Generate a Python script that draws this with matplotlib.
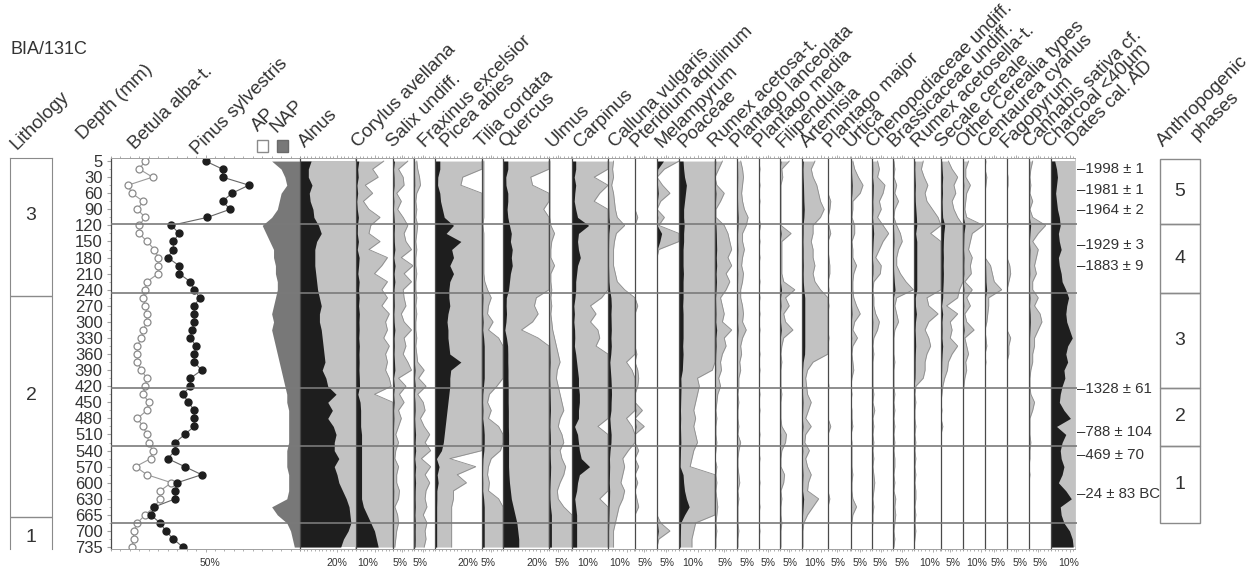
import numpy as np
import matplotlib.pyplot as plt
from matplotlib.patches import Rectangle
from matplotlib.ticker import MultipleLocator
from matplotlib.transforms import blended_transform_factory

plt.rcParams['font.family'] = ['Liberation Sans', 'DejaVu Sans']

# sample levels on the depth axis (one unit = one depth label)
levels = np.arange(0, 24.5, 0.5)
depth_labels = ['5', '30', '60', '90', '120', '150', '180', '210', '240', '270',
                '300', '330', '360', '390', '420', '450', '480', '510', '540',
                '570', '600', '630', '665', '700', '735']

# --- tree pollen shown as curves (%) ---
betula = [18, 15, 22, 9, 11, 17, 14, 18, 15, 15,
          19, 23, 25, 25, 25, 19, 18, 17, 18, 19,
          19, 17, 16, 14, 14, 14, 16, 19, 18, 17,
          20, 19, 14, 17, 19, 20, 22, 21, 13, 19,
          32, 26, 26, 23, 18, 14, 12, 12, 11]
pinus = [50, 59, 59, 73, 64, 59, 63, 51, 32, 36,
         33, 33, 30, 36, 36, 42, 44, 47, 44, 44,
         44, 43, 42, 45, 44, 44, 48, 42, 42, 38,
         41, 44, 44, 44, 39, 34, 34, 30, 39, 48,
         35, 34, 34, 23, 21, 26, 29, 33, 38]
ap_sum = [85, 90, 92, 93, 90, 89, 88, 85, 80, 82,
          84, 86, 86, 87, 87, 88, 88, 87, 86, 85,
          86, 85, 86, 87, 88, 89, 90, 91, 92, 93,
          93, 94, 94, 94, 94, 94, 93, 93, 93, 94,
          94, 94, 93, 85, 88, 93, 95, 96, 97]

# --- silhouette taxa (%) ---
alnus = [6, 4.5, 4.5, 6.5, 5, 5.5, 7, 7.5, 10, 11.5,
         9, 8, 8, 8, 8.5, 9, 9.5, 10.5, 11.5, 10.5,
         10.5, 11.5, 12, 12.5, 13, 13.5, 12, 14, 15, 19.5,
         15, 17.5, 15, 18, 19.5, 18.5, 18.5, 21, 18.5, 20,
         21, 23, 25, 26.5, 27, 27.5, 26, 23.5, 22]
corylus = [1.5, 0.9, 1.2, 0.5, 0.9, 0.4, 0.7, 1.3, 0.8, 0.7,
           1.3, 0.7, 1.7, 1.4, 1.0, 1.7, 1.4, 1.7, 1.4, 1.8,
           1.6, 1.7, 1.5, 1.8, 1.6, 1.7, 1.6, 1.8, 1.9, 1.0,
           2.2, 2.5, 2.5, 2.5, 3, 3, 3, 3, 3, 3,
           3, 3, 3, 4, 6, 8, 10, 11, 12]
salix = [.8, .3, .55, .6, .2, .45, .25, .55, .8, .6,
         .7, 1.0, .45, 1.1, .6, 1.0, .55, .6, .7, .45,
         .6, 1.0, .6, .7, .55, .8, 1.0, .3, .7, .35,
         .6, .3, .45, .3, .15, .3, .15, .1, .3, .2,
         .2, .35, .3, .1, .25, .3, .2, .15, .1]
fraxinus = [.15, .2, .3, .35, .15, .1, .15, .1, .2, .15,
            .1, .15, .1, .1, .15, .1, .1, .15, .1, .15,
            .1, .1, .15, .1, .15, .2, .55, .25, .65, .2,
            .5, .6, .35, .55, .85, .6, .9, .4, .9, .6,
            .85, .65, .6, .7, .5, .7, .6, .65, .55]
picea = [2.6, 2.6, 1.5, 1.4, 2.6, 3, 4, 5, 10, 6,
         14, 9, 10, 8, 10, 8, 7.5, 7.5, 8, 7,
         6.5, 7, 7, 7.5, 8, 14, 8.5, 8, 8, 7.5,
         7, 6.5, 6, 5.5, 5, 4.5, 3.5, 0.8, 2.2, 1.2,
         1.7, 1.0, 1.0, 0.9, 0.9, 0.9, 0.9, 0.9, 0.9]
tilia = [.1, .1, .1, .1, .1, .1, .1, .1, .05, .1,
         .1, .1, .1, .1, .1, .15, .3, .5, .35, .3,
         .6, .35, .9, 1.2, 1.2, 1.2, 1.2, 1.2, .8, .4,
         .3, .5, .35, .9, 1.2, 1.2, 1.0, .5, .35, .3,
         .4, .35, .9, 1.2, 1.2, 1.2, 1.2, 1.2, 1.2]
quercus = [2.6, 2.6, 1.5, 1.6, 2.6, 2.6, 2.2, 2.6, 3.5, 4.5,
           4, 5, 4.5, 5, 4, 3.5, 3, 1.8, 1.7, 1.9,
           1.6, 1.0, 1.9, 2.5, 2.6, 2.6, 2.7, 2.7, 2.8, 2.8,
           2.8, 2.9, 2.9, 2.9, 3, 3, 3, 3, 3, 3.2,
           3.5, 4, 4.5, 5.5, 6.5, 7.5, 8, 8.5, 8.5]
ulmus = [.05, .05, .05, .05, .05, .05, .05, .05, .1, .3,
         .15, .1, .1, .3, .1, .1, .15, .1, .15, .1,
         .15, .2, .3, .4, .5, .6, .45, .4, .5, .6,
         .7, .8, .6, .5, .7, .8, .6, .7, .9, .8,
         .6, .45, .5, .8, 1.3, 1.3, 1.3, 1.3, 1.3]
carpinus = [2, 2, 1.2, 2, 1.5, 1.2, 2, 3, 9, 3.5,
            3, 3.5, 4.5, 3, 2.5, 2, 2, 1.6, 1.0, 1.3,
            1.0, 1.4, 1.5, 1.3, 2, 2.5, 3, 3.5, 3.5, 4,
            4, 3.5, 3.5, 1.4, 3, 3.5, 4, 5, 9.5, 4,
            3, 2.5, 1.5, 2, 2.5, 2.5, 2.5, 2.5, 2.5]
calluna = [.3, .25, .3, .2, .3, .35, .4, .5, .9, .45,
           .35, .3, .3, .3, .4, .5, .9, 1.6, 1.8, 1.6,
           1.7, 1.8, 1.6, 1.8, 1.5, 1.0, 1.3, 1.6, 1.8, 1.9,
           1.7, 1.6, 1.0, 1.3, 1.7, 1.6, 1.1, .8, .9, .8,
           .7, .9, .8, .6, .5, .4, .3, .3, .3]
pteridium = [0, 0, 0, 0, 0, 0, 0, .15, 0, 0,
             0, 0, 0, 0, 0, 0, 0, 0, .15, 0,
             0, 0, 0, 0, .1, 0, .15, .2, .15, 0,
             0, .4, 0, .5, 0, 0, .2, 0, .2, 0,
             .15, 0, .1, .2, 0, 0, 0, 0, 0]
melampyrum = [3.5, .4, 0, .3, .7, .2, 0, .4, .1, 2.5,
              1.5, .1, 0, 0, 0, 0, 0, 0, 0, 0,
              0, 0, 0, 0, 0, 0, 0, 0, 0, 0,
              0, 0, 0, 0, 0, 0, 0, 0, 0, 0,
              0, 0, 0, 0, 0, .2, .7, .1, 0]
poaceae = [2.2, 2.5, 3, 4, 3.5, 3, 2.5, 2.5, 2.8, 2.5,
           2.5, 2.2, 2.2, 2.2, 2.4, 2.2, 2.2, 2.2, 2, 2.2,
           2.2, 2.2, 2.2, 2.0, 2.2, 2.0, 1.8, 1.0, 1.1, 1.0,
           .9, .8, .9, .8, .9, 1.0, .8, .7, .6, 2.2,
           2.5, 3, 4, 5.5, 3, .9, .8, .7, .7]
rumex_acetosa = [.4, .2, 0, .1, .5, .3, .05, .05, .5, .7,
                 .8, .9, .7, .9, .6, .8, .6, .3, .4, .5,
                 .4, .9, .5, .6, .4, .3, .35, .2, .3, .15,
                 .1, .05, .1, .05, .05, .1, .05, 0, .1, .05,
                 .1, .05, .1, .15, .1, .05, .1, .05, .05]
pl_lanceolata = [.2, .3, .35, .3, .25, .3, .4, .6, .5, .3,
                 .3, .4, .3, .25, .35, .3, .2, .2, .3, .35,
                 .3, .5, .3, .2, .25, .15, .2, .1, .1, .05,
                 .1, .05, .05, .1, .05, .2, .1, .05, .05, .1,
                 .15, .05, .1, .05, .05, .05, .1, .05, .05]
pl_media = [0, .05, 0, .05, 0, .05, 0, 0, .08, 0,
            .05, 0, .05, 0, 0, .05, 0, .05, 0, .05,
            0, .05, 0, 0, .05, 0, .05, 0, 0, .05,
            0, .05, 0, 0, .05, 0, 0, .05, 0, 0,
            .05, 0, 0, .05, 0, 0, .05, 0, 0]
filipendula = [.5, .1, .15, .05, .05, .05, .05, .05, .05, .6,
               .1, .1, .1, .1, .1, .2, .8, .3, .5, .2,
               .3, .7, .2, .1, .05, .1, .05, .05, .05, .1,
               .05, .05, .05, .1, .35, .3, .1, .05, .05, .25,
               .2, .05, .1, .05, .05, .1, .05, .05, .05]
artemisia = [.7, .5, .6, .8, .9, 1.0, 1.2, 1.0, .6, .6,
             .5, .6, .6, .7, .6, .7, 1.0, 1.5, 1.5, 1.5,
             1.5, 1.5, 1.5, 1.5, 1.4, .6, .3, .2, .25, .3,
             .5, .35, .2, .5, .2, .15, .4, .2, .3, .5,
             .35, .3, .9, .6, .3, .1, .05, .05, .05]
pl_major = [0, 0, 0, 0, 0, .15, .1, 0, .05, .15,
            0, 0, .05, .1, .1, 0, .05, 0, .05, 0,
            0, 0, .05, 0, 0, 0, 0, 0, .05, 0,
            0, 0, 0, .15, 0, 0, 0, 0, 0, 0,
            0, 0, .1, 0, 0, 0, 0, 0, 0]
urtica = [.1, .2, .4, .65, .5, .1, .1, .05, .2, .2,
          .05, .1, .1, .3, .15, .1, .1, .15, .3, .5,
          .2, .1, .35, .1, .05, .1, .15, .05, 0, .05,
          0, .05, .05, .1, 0, .05, .05, .05, .05, .1,
          .05, .05, .1, .3, .1, .05, 0, 0, 0]
chenopodiaceae = [.3, .4, .3, .7, .6, .4, .5, .3, .6, .9,
                  .6, .4, .2, .5, .45, .1, .05, .1, .1, .2,
                  .4, .3, .1, .05, .1, .05, .05, .05, .05, .1,
                  .05, .15, .05, .1, .05, .1, .05, .1, .05, .1,
                  .15, .1, .05, .1, .05, .05, 0, 0, 0]
brassicaceae = [.05, .1, .05, .2, .1, .3, .1, .05, .2, .4,
                .5, .3, .2, .2, .4, .7, 1.1, .2, .1, .2,
                .3, .1, .05, .05, .05, .1, .05, .05, .05, .1,
                .05, .1, .05, .1, .05, .1, .05, .1, .1, .05,
                .1, .05, .15, .1, .15, .1, .05, .1, .05]
rumex_acetosella = [.5, .4, .55, .75, .6, .7, 1.0, 1.3, 1.5, .9,
                    1.5, 1.5, 1.5, 1.5, 1.5, 1.5, 1.5, .7, .8, 1.3,
                    .8, .6, .8, .9, .7, .6, .6, .5, .1, .05,
                    .1, .05, .05, .1, .05, .1, .05, .1, .05, .1,
                    .05, .1, .1, .05, .1, .05, .1, .05, 0]
secale = [.4, .6, .9, .7, .8, .6, .7, .9, 2.0, 1.5,
          1.3, 1.2, 1.3, 1.2, 1.3, 1.2, 1.0, .9, .3, .9,
          .5, .6, .5, .9, .6, .4, .35, .2, .1, .05,
          0, .05, 0, .1, 0, 0, 0, 0, 0, 0,
          0, 0, 0, 0, 0, 0, 0, 0, 0]
other_cerealia = [.3, .15, .15, .4, .2, .15, .1, .2, 1.1, .5,
                  .4, .3, .5, .4, .45, .1, .5, .2, .4, .1,
                  .2, .6, .1, .2, .3, .15, .2, .1, .05, 0,
                  0, 0, 0, 0, 0, 0, 0, 0, 0, 0,
                  0, 0, 0, 0, 0, 0, 0, 0, 0]
centaurea = [.05, 0, .1, .05, 0, 0, 0, 0, 0, 0,
             0, 0, 0, .3, .4, .5, .9, .2, .2, .15,
             .1, 0, .05, .1, 0, .05, 0, 0, 0, 0,
             0, 0, 0, 0, 0, 0, 0, 0, 0, 0,
             0, 0, 0, 0, 0, 0, 0, 0, 0]
fagopyrum = [0, 0, .05, .05, 0, 0, 0, 0, .05, 0,
             0, 0, 0, .15, .2, .1, 0, 0, 0, 0,
             0, 0, .2, .1, .1, 0, 0, 0, 0, 0,
             0, 0, 0, 0, 0, 0, 0, 0, 0, 0,
             0, 0, 0, 0, 0, 0, 0, 0, 0]
cannabis = [.2, .1, .05, .1, .05, .2, .05, .2, .9, .5,
            .2, .5, .4, .3, .4, .2, .2, .5, .3, .6,
            .7, .5, .3, .3, .2, .2, .1, .05, .05, .1,
            .3, .2, .05, .05, .05, .1, .05, .05, 0, .05,
            0, 0, 0, 0, 0, 0, 0, 0, 0]
charcoal = [2, 3, 3.5, 3, 2.5, 3, 3.5, 4.5, 5, 4,
            4.5, 5.5, 4, 4.5, 5.5, 6, 8, 9.5, 8.5, 8,
            8.5, 10, 11.5, 9, 8, 9, 7, 7.5, 6, 5,
            4.5, 7, 10.5, 3, 8, 6, 5, 5.5, 7, 6,
            4, 8, 11, 5, 5.5, 7, 10, 11.5, 12]

taxa = ['Alnus', 'Corylus avellana', 'Salix undiff.', 'Fraxinus excelsior',
        'Picea abies', 'Tilia cordata', 'Quercus', 'Ulmus', 'Carpinus',
        'Calluna vulgaris', 'Pteridium aquilinum', 'Melampyrum', 'Poaceae',
        'Rumex acetosa-t.', 'Plantago lanceolata', 'Plantago media',
        'Filipendula', 'Artemisia', 'Plantago major', 'Urtica',
        'Chenopodiaceae undiff.', 'Brassicaceae undiff.', 'Rumex acetosella-t.',
        'Secale cereale', 'Other Cerealia types', 'Centaurea cyanus',
        'Fagopyrum', 'Cannabis sativa cf.', 'Charcoal <40µm']
series = [alnus, corylus, salix, fraxinus, picea, tilia, quercus, ulmus,
          carpinus, calluna, pteridium, melampyrum, poaceae, rumex_acetosa,
          pl_lanceolata, pl_media, filipendula, artemisia, pl_major, urtica,
          chenopodiaceae, brassicaceae, rumex_acetosella, secale,
          other_cerealia, centaurea, fagopyrum, cannabis, charcoal]
scale_ticks = [20, 10, 5, 5, 20, 5, 20, 5, 10, 10, 5, 5, 10, 5, 5, 5, 5, 10,
               5, 5, 5, 5, 10, 5, 10, 5, 5, 5, 10]

lith_units = ['3', '2', '1']
lith_bounds = [8.4, 22.1]
phases = ['5', '4', '3', '2', '1']
phase_bounds = [-0.12, 3.9, 8.2, 14.1, 17.7, 22.5]
dates = ['1998 ± 1', '1981 ± 1', '1964 ± 2', '1929 ± 3', '1883 ± 9',
         '1328 ± 61', '788 ± 104', '469 ± 70', '24 ± 83 BC']
date_levels = [0.5, 1.8, 3.05, 5.2, 6.5, 14.2, 16.85, 18.3, 20.7]

# --- layout (pixels) ---
W, H = 1251, 569
TOP, BOT = 158, 549
YLIM = (24.12, -0.19)
PX_PER_PCT = 1.85
EXAG = 10
panel_edges = [(300, 355), (356, 393), (393, 413), (414, 435), (435, 482),
               (482, 503), (503, 549), (549, 572), (572, 608), (608, 635),
               (635, 657), (657, 679), (679, 715), (715, 737), (737, 759),
               (759, 780), (780, 802), (802, 828), (828, 851), (851, 872),
               (872, 893), (893, 914), (914, 941), (941, 963), (963, 985),
               (985, 1007), (1007, 1029), (1029, 1051), (1051, 1075)]
label_x = [305, 358, 393, 425, 447, 482, 505, 552, 580, 615, 637, 662, 685,
           715, 737, 760, 783, 807, 830, 850, 873, 895, 918, 942, 963, 985,
           1007, 1030, 1050]
# centres of the scale labels under each panel
scale_x = [337, 368, 400, 420, 468, 488, 537, 562, 588, 620, 645, 667, 693,
           725, 747, 768, 790, 815, 838, 860, 880, 902, 930, 953, 977, 998,
           1020, 1040, 1069]
SCALE_Y = 563

BLACK = '#1e1e1e'
GREY = '#c2c2c2'
EDGE = '#8c8c8c'
DARK = '#787878'
TXT = '#333333'
LABEL_FS = 13.5

fig = plt.figure(figsize=(W / 100, H / 100), dpi=100)


def add_panel(x0, x1):
    ax = fig.add_axes([x0 / W, 1 - BOT / H, (x1 - x0) / W, (BOT - TOP) / H])
    ax.set_ylim(*YLIM)
    return ax


def fig_label(x, y, s, **kw):
    fig.text(x / W, 1 - y / H, s, rotation=45, rotation_mode='anchor',
             ha='left', va='baseline', fontsize=LABEL_FS, color=TXT, **kw)


def scale_label(x, s):
    fig.text(x / W, 1 - SCALE_Y / H, s, ha='center', va='center',
             fontsize=7.5, color=TXT)


def style_frame(ax, minor):
    for side in ('top', 'bottom'):
        ax.spines[side].set_color('#a0a0a0')
        ax.spines[side].set_linewidth(0.7)
    ax.spines['left'].set_color('#4a4a4a')
    ax.spines['left'].set_linewidth(0.9)
    ax.spines['right'].set_color('#c8c8c8')
    ax.spines['right'].set_linewidth(0.7)
    ax.xaxis.set_minor_locator(MultipleLocator(minor))
    ax.tick_params(axis='x', which='both', top=True, bottom=True,
                   direction='out', color='#a0a0a0', width=0.6,
                   labelbottom=False)
    ax.tick_params(axis='x', which='major', length=2.5)
    ax.tick_params(axis='x', which='minor', length=1.5)


# lithology column
ax = add_panel(10, 52)
ax.set_xlim(0, 1)
for s in ('left', 'right', 'top'):
    ax.spines[s].set_color('#8a8a8a')
ax.spines['bottom'].set_visible(False)
ax.set_xticks([])
ax.set_yticks([])
for b in lith_bounds:
    ax.axhline(b, color='#8a8a8a', lw=1.0)
for lab, y in zip(lith_units, [3.4, 14.6, 23.4]):
    ax.text(0.5, y, lab, ha='center', va='center', fontsize=14, color=TXT)

# Betula / Pinus with AP/NAP sum
ax = add_panel(111, 300)
ax.set_xlim(0, 100)
ax.fill_betweenx(levels, ap_sum, 100, color=DARK, lw=0)
ax.plot(betula, levels, '-', color='#9a9a9a', lw=0.8)
ax.plot(betula, levels, 'o', ms=5, mfc='white', mec='#8a8a8a', mew=0.9)
ax.plot(pinus, levels, '-', color='#666666', lw=0.8)
ax.plot(pinus, levels, 'o', ms=5, mfc=BLACK, mec=BLACK)
style_frame(ax, 5)
ax.spines['right'].set_visible(False)
ax.set_xticks([50])
scale_label(210, '50%')
ax.set_yticks(range(len(depth_labels)))
ax.set_yticklabels(depth_labels)
ax.set_yticks(levels, minor=True)
ax.tick_params(axis='y', which='major', labelsize=12, labelcolor=TXT,
               length=3, color='#a0a0a0', pad=3)
ax.tick_params(axis='y', which='minor', length=1.5, color='#b0b0b0')

# silhouette panels: grey = x10 exaggeration, black = values
for vals, (x0, x1), tick, sx in zip(series, panel_edges, scale_ticks, scale_x):
    ax = add_panel(x0, x1)
    xmax = (x1 - x0) / PX_PER_PCT
    ax.set_xlim(0, xmax)
    v = np.array(vals, dtype=float)
    ex = np.minimum(v * EXAG, xmax)
    ax.fill_betweenx(levels, 0, ex, color=GREY, lw=0)
    ax.plot(ex, levels, color=EDGE, lw=0.6)
    ax.fill_betweenx(levels, 0, v, color=BLACK, lw=0)
    style_frame(ax, 2)
    ax.set_xticks([tick])
    ax.set_yticks([])
    scale_label(sx, f'{tick}%')

# zone boundaries across the diagram
ax = add_panel(111, 1077)
ax.axis('off')
ax.set_xlim(0, 1)
for b in phase_bounds[1:]:
    ax.axhline(b, color='#7a7a7a', lw=1.2)

# dates
ax = add_panel(1075, 1158)
ax.axis('off')
tr = blended_transform_factory(ax.transAxes, ax.transData)
for d, y in zip(dates, date_levels):
    ax.text(0.02, y, '\u2013' + d, transform=tr, ha='left', va='center',
            fontsize=10.8, color=TXT)

# anthropogenic phases
ax = add_panel(1160, 1200)
ax.axis('off')
ax.set_xlim(0, 1)
for lab, top, bot in zip(phases, phase_bounds[:-1], phase_bounds[1:]):
    ax.add_patch(Rectangle((0, top), 1, bot - top, fc='none', ec='#8a8a8a',
                           lw=1.0, clip_on=False))
    ax.text(0.5, (top + bot) / 2, lab, ha='center', va='center', fontsize=14,
            color=TXT)

# header texts
fig.text(10 / W, 1 - 54 / H, 'BIA/131C', fontsize=13, color=TXT,
         ha='left', va='baseline')
fig_label(17, 150, 'Lithology')
fig_label(83, 140, 'Depth (mm)')
fig_label(135, 150, 'Betula alba-t.')
fig_label(197, 155, 'Pinus sylvestris')
fig_label(258, 132, 'AP')
fig_label(277, 133, 'NAP')
fig.patches.append(Rectangle((257 / W, 1 - 152 / H), 11 / W, 12 / H,
                             transform=fig.transFigure, fc='white',
                             ec='#8a8a8a', lw=1.0))
fig.patches.append(Rectangle((277 / W, 1 - 152 / H), 11 / W, 12 / H,
                             transform=fig.transFigure, fc=DARK,
                             ec='#6a6a6a', lw=1.0))
for name, x in zip(taxa, label_x):
    fig_label(x, 148, name)
fig_label(1073, 147, 'Dates cal. AD')
fig_label(1163, 147, 'Anthropogenic')
fig_label(1197, 140, 'phases')

fig.savefig('out.png', dpi=100)
